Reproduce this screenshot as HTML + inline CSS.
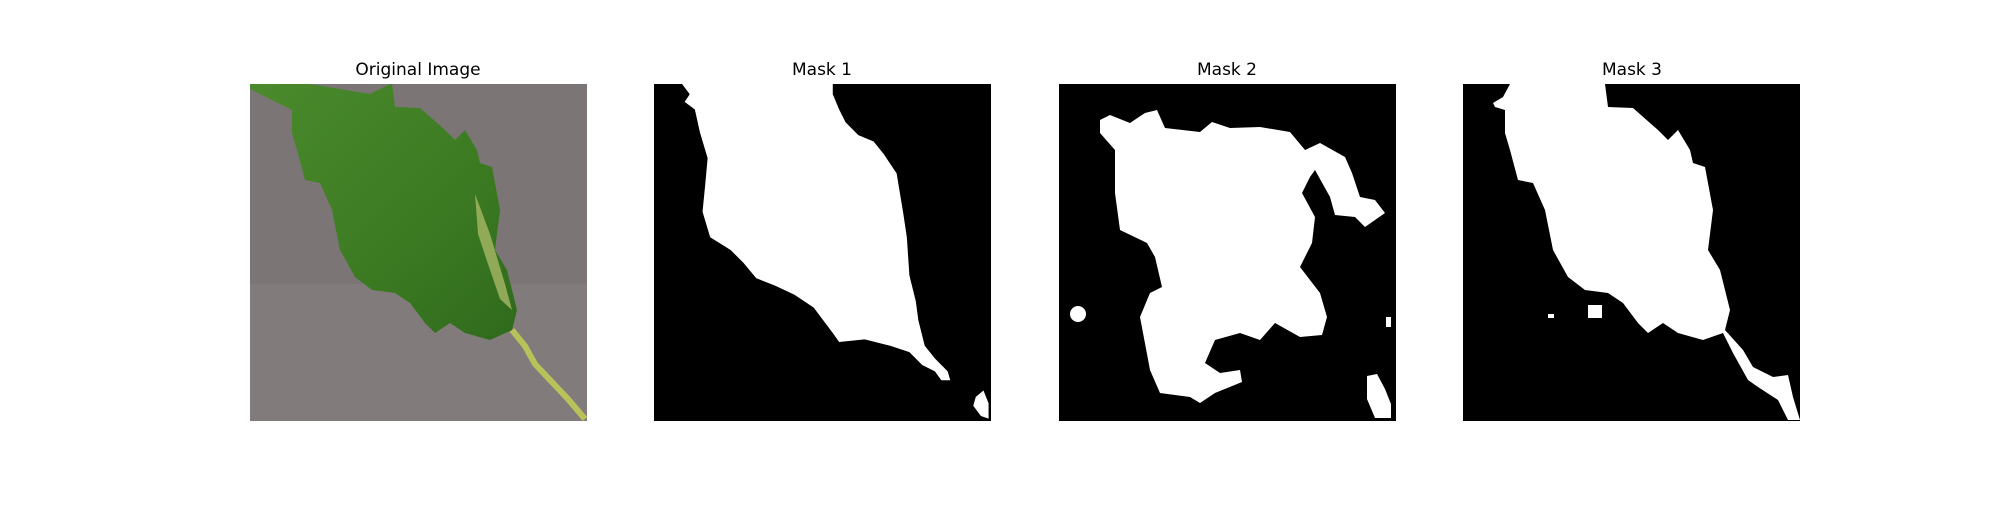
<!DOCTYPE html>
<html><head><meta charset="utf-8"><style>
body{margin:0;background:#fff;width:2000px;height:500px;overflow:hidden}
svg text{font-family:"DejaVu Sans","Liberation Sans",sans-serif;font-size:17px;fill:#000}
</style></head><body>
<svg width="2000" height="500" viewBox="0 0 2000 500">
<defs>
<linearGradient id="lg" x1="0" y1="0" x2="1" y2="1"><stop offset="0" stop-color="#4a8a2c"/><stop offset="0.6" stop-color="#3c7a22"/><stop offset="1" stop-color="#2f6a1c"/></linearGradient>
</defs>
<!-- Panel 1 -->
<g>
<text x="418" y="75" text-anchor="middle">Original Image</text>
<g transform="translate(250,84)">
<rect width="337" height="337" fill="#7b7575"/>
<rect x="0" y="200" width="337" height="137" fill="#817b7b"/>
<polygon fill="url(#lg)" points="0,0 60,0 120,10 140,0 142,0 145,23 170,24 195,46 205,56 215,46 227,66 230,79 242,83 250,126 245,166 257,186 267,226 262,246 240,256 215,249 200,239 185,249 175,239 160,219 145,209 122,206 105,193 90,166 82,126 70,99 55,96 47,66 42,49 42,26 20,15 0,5"/>
<polygon fill="#a7b865" opacity="0.8" points="225,110 240,150 255,200 262,226 250,215 238,180 228,150"/>
<polyline fill="none" stroke="#b9c25a" stroke-width="6" points="262,246 275,262 285,280 300,296 318,315 335,335"/>
</g>
</g>
<!-- Panel 2 -->
<g>
<text x="822" y="75" text-anchor="middle">Mask 1</text>
<g transform="translate(654,84)">
<rect width="337" height="337" fill="#000"/>
<g transform="scale(1.277)" fill="#fff">
<polygon points="22,0 28,8 24,14 32,20 36,38 42,58 40,80 38,100 44,120 60,130 70,140 80,152 95,158 110,165 125,175 140,195 145,202 165,200 185,205 200,210 210,220 220,225 225,232 232,232 230,225 220,215 212,205 207,185 205,170 200,150 198,120 195,100 190,70 180,55 172,45 160,40 150,30 145,20 140,8 140,0"/>
<polygon points="252,245 258,240 262,250 262,262 256,260 250,252"/>
</g>
</g>
</g>
<!-- Panel 3 -->
<g>
<text x="1227" y="75" text-anchor="middle">Mask 2</text>
<g transform="translate(1059,84)">
<rect width="337" height="337" fill="#000"/>
<g fill="#fff">
<polygon points="41,36 51,31 71,39 86,29 98,26 106,44 141,48 153,38 171,44 201,43 231,48 246,66 261,59 286,73 293,89 301,113 316,116 326,129 306,143 296,133 276,131 271,113 256,86 251,93 243,109 256,133 253,159 241,183 261,209 268,233 263,251 241,253 216,239 201,256 181,249 156,256 146,279 161,289 181,286 183,298 156,309 141,319 131,313 101,309 91,286 81,233 91,209 103,203 96,173 88,159 61,146 56,109 56,66 41,49"/>
<ellipse cx="19" cy="230" rx="8" ry="8"/>
<polygon points="308,292 318,290 326,305 332,320 332,334 316,334 308,315"/>
<rect x="327" y="233" width="5" height="10"/>
</g>
</g>
</g>
<!-- Panel 4 -->
<g>
<text x="1632" y="75" text-anchor="middle">Mask 3</text>
<g transform="translate(1463,84)">
<rect width="337" height="337" fill="#000"/>
<g fill="#fff">
<polygon points="30,19 40,13 47,0 142,0 145,23 170,24 195,46 205,56 215,46 227,66 230,79 242,83 250,126 245,166 257,186 267,226 262,246 280,266 290,283 310,293 325,291 330,313 337,336 325,336 315,316 295,303 285,296 270,269 260,249 240,256 215,249 200,239 185,249 175,239 160,219 145,209 122,206 105,193 90,166 82,126 70,99 55,96 47,66 42,49 42,26 32,23"/>
<rect x="125" y="221" width="14" height="13"/>
<rect x="85" y="230" width="6" height="4"/>
</g>
</g>
</g>
</svg>
</body></html>
